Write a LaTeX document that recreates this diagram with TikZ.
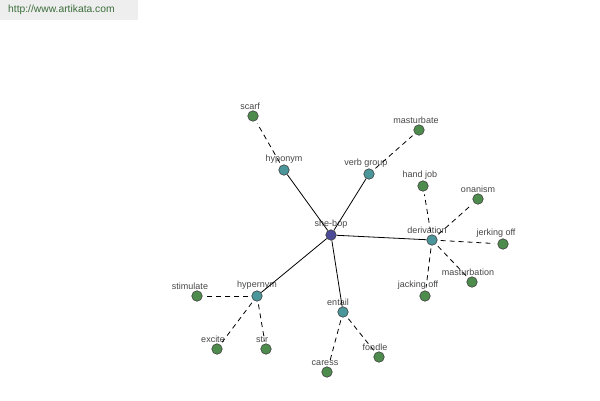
\documentclass[tikz,border=0pt]{standalone}
\usepackage{fontspec}
\setmainfont{Liberation Sans}
\usetikzlibrary{positioning}
\definecolor{leafgreen}{RGB}{78,140,78}
\definecolor{relteal}{RGB}{75,150,155}
\definecolor{rootblue}{RGB}{74,74,150}
\definecolor{labelgray}{RGB}{70,70,70}
\definecolor{hdrgray}{RGB}{238,238,238}
\definecolor{hdrgreen}{RGB}{60,110,60}
\tikzset{
    wordnode/.style={circle, draw=black!75, line width=0.6pt, inner sep=0pt,
        minimum size=10.5pt, label distance=1pt},
    leaf/.style={wordnode, fill=leafgreen},
    rel/.style={wordnode, fill=relteal},
    root/.style={wordnode, fill=rootblue},
    every label/.style={font=\fontsize{9}{10}\selectfont, text=labelgray, inner sep=0.5pt},
    soft/.style={line width=0.8pt},
    weak/.style={line width=0.8pt, dash pattern=on 5pt off 4pt, shorten <=3pt, shorten >=3pt}
}
\begin{document}
\begin{tikzpicture}[x=1pt, y=-1pt]
\useasboundingbox (0,0) rectangle (600,400);
\fill[hdrgray] (0,0) rectangle (138,20);
\node[anchor=west, font=\fontsize{10.3}{12}\selectfont, text=hdrgreen, inner sep=0pt] (site) at (8,10) {http://www.artikata.com};

% centre and relations
\node[root, label=above:she-bop] (shebop) at (331,235) {};
\node[rel, label=above:hyponym] (hyponym) at (284,170) {};
\node[rel, label={[xshift=-3pt]above:verb group}] (verbgroup) at (369,174) {};
\node[rel, label={[xshift=-5pt]above:derivation}] (derivation) at (432,240) {};
\node[rel, label=above:hypernym] (hypernym) at (257,296) {};
\node[rel, label={[xshift=-5pt]above:entail}] (entail) at (343,312) {};

% leaves
\node[leaf, label={[xshift=-3pt]above:scarf}] (scarf) at (253,116) {};
\node[leaf, label={[xshift=-3pt]above:masturbate}] (masturbate) at (419,130) {};
\node[leaf, label={[xshift=-3pt]above:hand job}] (handjob) at (423,186) {};
\node[leaf, label=above:onanism] (onanism) at (478,199) {};
\node[leaf, label={[xshift=-7pt]above:jerking off}] (jerkingoff) at (503,244) {};
\node[leaf, label={[xshift=-4pt]above:masturbation}] (masturbation) at (472,282) {};
\node[leaf, label={[xshift=-7pt]above:jacking off}] (jackingoff) at (425,296) {};
\node[leaf, label={[xshift=-7pt]above:stimulate}] (stimulate) at (197,296) {};
\node[leaf, label={[xshift=-4pt]above:excite}] (excite) at (217,349) {};
\node[leaf, label={[xshift=-4pt]above:stir}] (stir) at (266,349) {};
\node[leaf, label={[xshift=-2pt]above:caress}] (caress) at (327,372) {};
\node[leaf, label={[xshift=-4pt]above:fondle}] (fondle) at (379,357) {};

\draw[soft] (shebop) -- (hyponym);
\draw[soft] (shebop) -- (verbgroup);
\draw[soft] (shebop) -- (derivation);
\draw[soft] (shebop) -- (hypernym);
\draw[soft] (shebop) -- (entail);

\draw[weak] (hyponym) -- (scarf);
\draw[weak] (verbgroup) -- (masturbate);
\draw[weak] (derivation) -- (handjob);
\draw[weak] (derivation) -- (onanism);
\draw[weak] (derivation) -- (jerkingoff);
\draw[weak] (derivation) -- (masturbation);
\draw[weak] (derivation) -- (jackingoff);
\draw[weak] (hypernym) -- (stimulate);
\draw[weak] (hypernym) -- (excite);
\draw[weak] (hypernym) -- (stir);
\draw[weak] (entail) -- (caress);
\draw[weak] (entail) -- (fondle);
\end{tikzpicture}
\end{document}
